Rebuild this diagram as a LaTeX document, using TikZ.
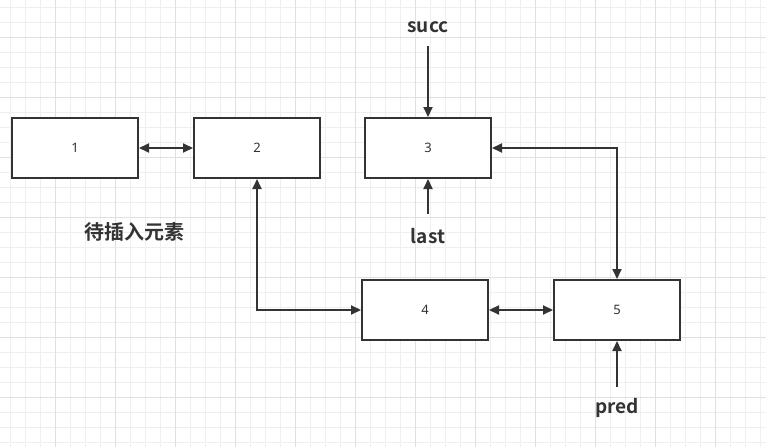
\documentclass[tikz,border=0pt]{standalone}
\usepackage{fontspec}
\setmainfont{Noto Sans}
\newfontfamily\cjk{Noto Sans CJK SC}[BoldFont={Noto Sans CJK SC Bold}]
\usetikzlibrary{arrows.meta}
\definecolor{ink}{HTML}{333333}
\definecolor{gridminor}{HTML}{EFEFEF}
\definecolor{gridmajor}{HTML}{E0E0E0}
\tikzset{
  box/.style={draw=ink, line width=2pt, fill=white, minimum width=126pt, minimum height=60pt, inner sep=0pt, font=\fontsize{13pt}{15pt}\selectfont, text=ink},
  lbl/.style={font=\cjk\bfseries\fontsize{19pt}{22pt}\selectfont, text=ink, inner sep=0pt},
  conn/.style={draw=ink, line width=2pt, -{Triangle[length=10pt,width=9pt]}},
  dconn/.style={draw=ink, line width=2pt, {Triangle[length=10pt,width=9pt]}-{Triangle[length=10pt,width=9pt]}}
}
\begin{document}
\begin{tikzpicture}[x=1pt,y=-1pt]
\useasboundingbox (0,0) rectangle (766,447);
\fill[white] (0,0) rectangle (766,447);
% grid
\foreach \i in {0,...,51} {\draw[gridminor, line width=1pt] ({10+15*\i},0) -- ({10+15*\i},447);}
\foreach \j in {0,...,29} {\draw[gridminor, line width=1pt] (0,{7+15*\j}) -- (766,{7+15*\j});}
\foreach \i in {0,...,12} {\draw[gridmajor, line width=1pt] ({55+60*\i},0) -- ({55+60*\i},447);}
\foreach \j in {0,...,7} {\draw[gridmajor, line width=1pt] (0,{37+60*\j}) -- (766,{37+60*\j});}
% boxes
\node[box] (n1) at (75,148) {1};
\node[box] (n2) at (257,148) {2};
\node[box] (n3) at (428,148) {3};
\node[box] (n4) at (425,310) {4};
\node[box] (n5) at (617,310) {5};
% labels
\node[lbl] (succ) at (428,27) {succ};
\node[lbl] (last) at (428,236) {last};
\node[lbl] (pred) at (617,408) {pred};
\node[lbl, font=\cjk\bfseries\fontsize{20pt}{24pt}\selectfont] (ins) at (134,232) {待插入元素};
\coordinate (s0) at (428,46);
\coordinate (l0) at (428,214);
\coordinate (p0) at (617,387);
% connectors
\draw[dconn] (n1) -- (n2);
\draw[dconn] (n2.south) |- (n4.west);
\draw[dconn] (n3.east) -| (n5.north);
\draw[dconn] (n4) -- (n5);
\draw[conn] (s0) -- (n3.north);
\draw[conn] (l0) -- (n3.south);
\draw[conn] (p0) -- (n5.south);
\end{tikzpicture}
\end{document}
